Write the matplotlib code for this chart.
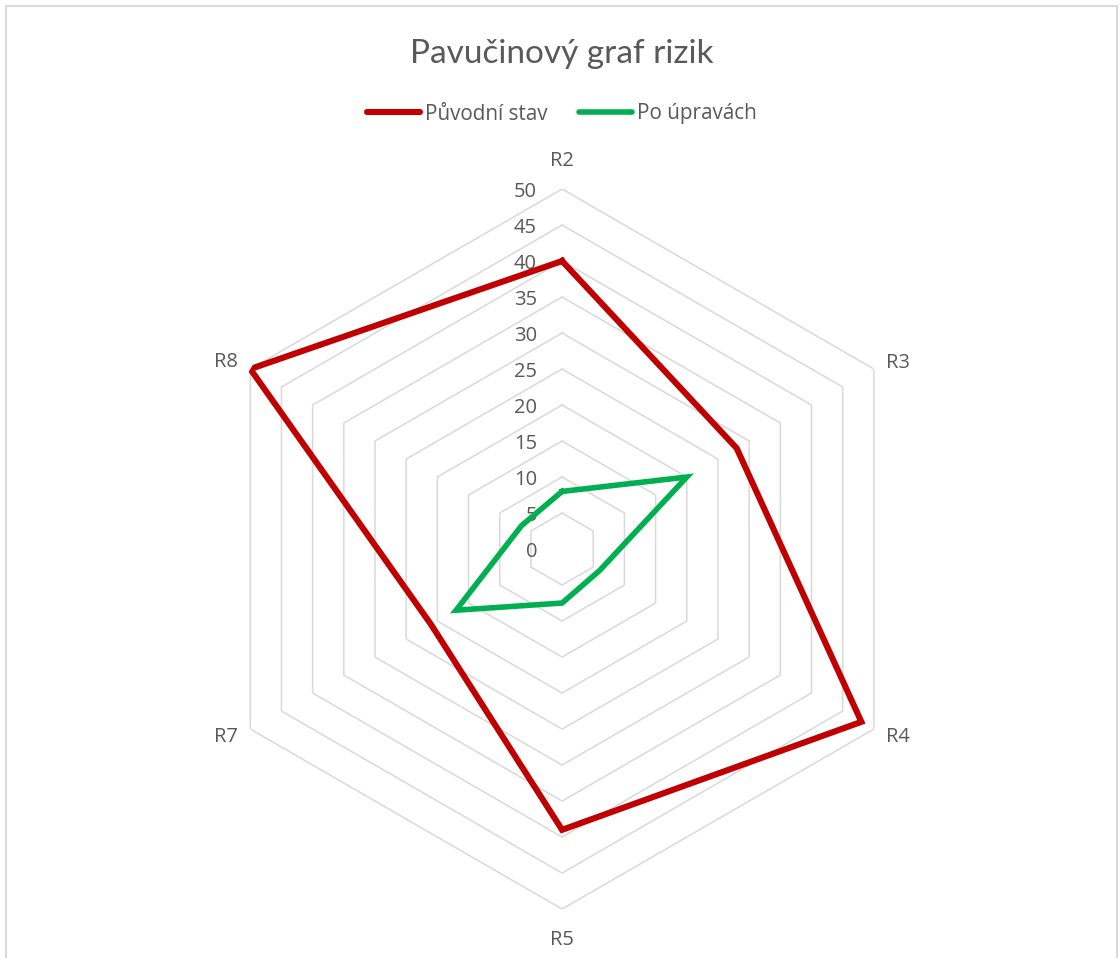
import numpy as np
import matplotlib
matplotlib.use("Agg")
import matplotlib.pyplot as plt
from matplotlib.patches import Rectangle

# =====================================================
# DATA
# =====================================================

categories = ["R2", "R3", "R4", "R5", "R7", "R8"]

original = [40, 28, 48, 39, 21, 50]      # Původní stav
adjusted = [8, 20, 6, 7.5, 17, 6.5]      # Po úpravách

r_ticks = list(range(0, 55, 5))

# label offsets (pixels) and alignment per category
label_offsets = [(0, 23), (12, 1), (12, -13), (0, -36), (-12, -13), (-12, 2)]
label_ha = ["center", "left", "left", "center", "right", "right"]

# =====================================================
# STYLE
# =====================================================

plt.rcParams["font.family"] = ["Open Sans", "DejaVu Sans"]

TEXT = "#595959"
GRID = "#D9D9D9"
RED = "#C00000"
GREEN = "#00B050"
FS = 14.5

# =====================================================
# FIGURE
# =====================================================

fig = plt.figure(figsize=(11.2, 9.58), dpi=100)

ax = fig.add_axes([0.1804, 0.0511, 0.6429, 0.7516], projection="polar")
ax.set_theta_zero_location("N")
ax.set_theta_direction(-1)
ax.set_ylim(0, 50)
ax.grid(False)
ax.set_xticks([])
ax.set_yticks([])
ax.spines["polar"].set_visible(False)
ax.patch.set_alpha(0)

theta = np.linspace(0, 2 * np.pi, len(categories), endpoint=False)
theta_c = np.append(theta, theta[0])

# hexagon grid
for r in r_ticks[1:]:
    ax.plot(theta_c, [r] * len(theta_c), color=GRID, lw=1.1, zorder=1)

# radial tick labels
for r in r_ticks:
    ax.annotate(
        str(r), xy=(0, r), xytext=(-25, -7.5), textcoords="offset pixels",
        ha="right", va="baseline", fontsize=FS, color=TEXT
    )

# category labels
for t, lab, off, ha in zip(theta, categories, label_offsets, label_ha):
    ax.annotate(
        lab, xy=(t, 50), xytext=off, textcoords="offset pixels",
        ha=ha, va="baseline", fontsize=FS, color=TEXT
    )

# series
ax.plot(theta_c, original + original[:1], color=RED, lw=4.4,
        solid_joinstyle="miter", label="Původní stav", zorder=3)
ax.plot(theta_c, adjusted + adjusted[:1], color=GREEN, lw=4.0,
        solid_joinstyle="miter", label="Po úpravách", zorder=4)

# title
fig.text(0.5018, 1 - 63 / 958, "Pavučinový graf rizik", ha="center",
         va="baseline", fontsize=24, color=TEXT, family=["Lato", "DejaVu Sans"])

# legend
leg = fig.legend(
    loc="center", bbox_to_anchor=(0.5018, 1 - 114 / 958), ncol=2,
    frameon=False, fontsize=14.9, handlelength=2.55, handletextpad=0.25,
    columnspacing=1.55, borderaxespad=0
)
for t in leg.get_texts():
    t.set_color(TEXT)
for h in leg.get_lines():
    h.set_solid_capstyle("round")

# chart border
fig.patches.append(Rectangle(
    (5.5 / 1120, -0.01), (1117 - 5.5) / 1120, 1.01 - 5.5 / 958,
    transform=fig.transFigure, fill=False, edgecolor=GRID, lw=1.5
))

fig.savefig("out.png", dpi=100)
